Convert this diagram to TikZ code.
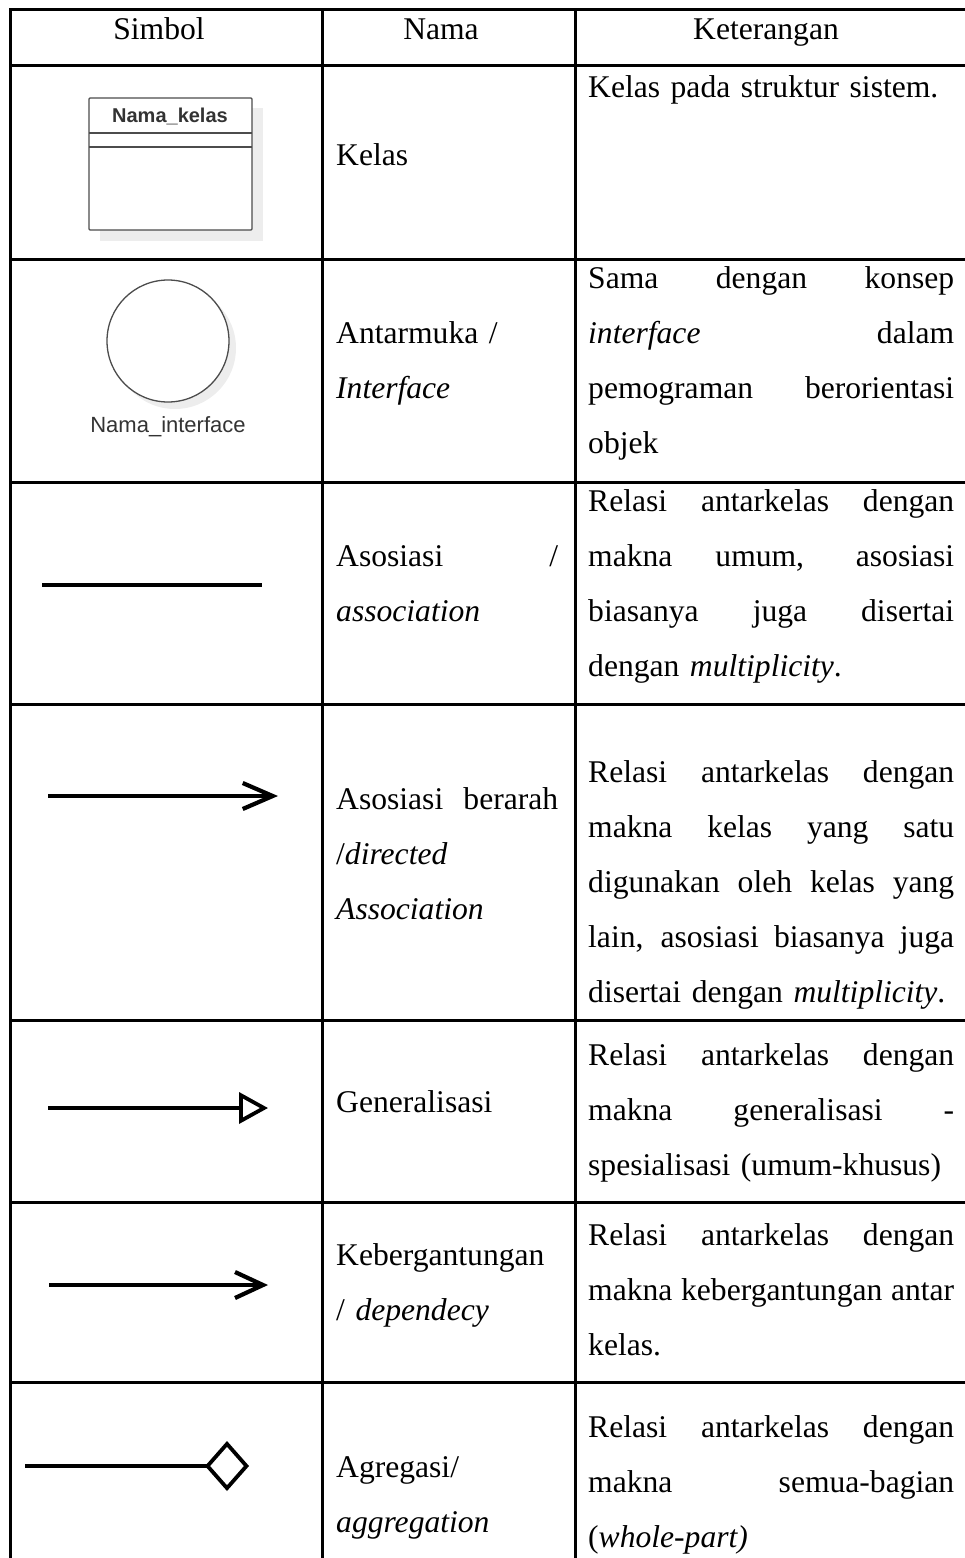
\documentclass[tikz,border=0pt]{standalone}
\usepackage{fontspec}
\setmainfont{Liberation Serif}
\newfontfamily\umlfont{Liberation Sans}
\usetikzlibrary{arrows.meta}

\newcommand{\fullline}[1]{\noindent\hbox to\linewidth{\spaceskip=0.25em plus 1fil minus 0.1em\relax #1}\par}

\tikzset{
  tabline/.style={line width=3pt, line cap=rect},
  hdr/.style={anchor=base, inner sep=0pt, font=\fontsize{31.6}{55}\selectfont},
  namecell/.style={anchor=base west, inner sep=0pt, text width=222pt, font=\fontsize{31.6}{55}\selectfont},
  desccell/.style={anchor=base west, inner sep=0pt, text width=366pt, font=\fontsize{31.6}{55}\selectfont},
  umlline/.style={line width=1.3pt, draw=black!70},
  umlshadow/.style={fill=black!7},
  relline/.style={line width=3.3pt},
}

\begin{document}
\begin{tikzpicture}[x=1pt,y=-1pt]
\useasboundingbox (0,0) rectangle (964,1558);
\draw[tabline] (10,9) -- (964,9);
\draw[tabline] (10,65) -- (964,65);
\draw[tabline] (10,259) -- (964,259);
\draw[tabline] (10,482) -- (964,482);
\draw[tabline] (10,704) -- (964,704);
\draw[tabline] (10,1020) -- (964,1020);
\draw[tabline] (10,1202) -- (964,1202);
\draw[tabline] (10,1382) -- (964,1382);
\draw[tabline] (10,9) -- (10,1558);
\draw[tabline] (322,9) -- (322,1558);
\draw[tabline] (575,9) -- (575,1558);

\node[hdr] (hsimbol) at (159,39) {Simbol};
\node[hdr] (hnama) at (441,39) {Nama};
\node[hdr] (hket) at (766,39) {Keterangan};

\fill[umlshadow] (100,108) rectangle (263,241);
\draw[umlline, fill=white, rounded corners=1pt] (89,98) rectangle (252,230);
\draw[umlline] (89,133) -- (252,133);
\draw[umlline] (89,147) -- (252,147);
\node[inner sep=0pt, text=black!80, font={\umlfont\bfseries\fontsize{20}{24}\selectfont}] (kelasname) at (170,116) {Nama\_kelas};

\fill[umlshadow] (175,348) circle[radius=61pt];
\draw[umlline, fill=white] (168,341) circle[radius=61pt];
\node[anchor=base, inner sep=0pt, text=black!80, font={\umlfont\fontsize{22}{26}\selectfont}] (ifacename) at (168,432) {Nama\_interface};

\coordinate (asA) at (42,585);
\coordinate (asB) at (262,585);
\draw[relline] (asA) -- (asB);

\coordinate (daA) at (48,796);
\coordinate (daB) at (278,796);
\draw[relline, -{Straight Barb[length=30pt, width=26pt, line width=4.2pt]}] (daA) -- (daB);

\coordinate (geA) at (48,1108);
\coordinate (geB) at (268,1108);
\draw[relline, -{Triangle[open, length=29pt, width=31pt, line width=3.8pt]}] (geA) -- (geB);

\coordinate (deA) at (49,1285);
\coordinate (deB) at (268,1285);
\draw[relline, -{Straight Barb[length=28pt, width=26pt, line width=4.2pt]}] (deA) -- (deB);

\coordinate (agA) at (25,1466);
\coordinate (agB) at (249,1466);
\draw[relline, -{Diamond[open, length=44pt, width=50pt, line width=3.8pt]}] (agA) -- (agB);

\node[namecell] (nkelas) at (336,165) {Kelas};
\node[desccell] (dkelas) at (588,97) {Kelas pada struktur sistem.};

\node[namecell] (niface) at (336,343) {Antarmuka /\par\textit{Interface}};
\node[desccell] (diface) at (588,288) {\fullline{Sama dengan konsep}\fullline{\textit{interface} dalam}\fullline{pemograman berorientasi}objek};

\node[namecell] (nassoc) at (336,566) {\fullline{Asosiasi /}\textit{association}};
\node[desccell] (dassoc) at (588,511) {\fullline{Relasi antarkelas dengan}\fullline{makna umum, asosiasi}\fullline{biasanya juga disertai}dengan \textit{multiplicity}.};

\node[namecell] (ndirect) at (336,809) {\fullline{Asosiasi berarah}/\textit{directed}\par\textit{Association}};
\node[desccell] (ddirect) at (588,782) {\fullline{Relasi antarkelas dengan}\fullline{makna kelas yang satu}\fullline{digunakan oleh kelas yang}\fullline{lain, asosiasi biasanya juga}disertai dengan \textit{multiplicity}.};

\node[namecell] (ngeneral) at (336,1112) {Generalisasi};
\node[desccell] (dgeneral) at (588,1065) {\fullline{Relasi antarkelas dengan}\fullline{makna generalisasi -}spesialisasi (umum-khusus)};

\node[namecell] (ndepend) at (336,1265) {Kebergantungan\par/ \textit{dependecy}};
\node[desccell] (ddepend) at (588,1245) {\fullline{Relasi antarkelas dengan}\fullline{makna kebergantungan antar}kelas.};

\node[namecell] (naggreg) at (336,1477) {Agregasi/\par\textit{aggregation}};
\node[desccell] (daggreg) at (588,1437) {\fullline{Relasi antarkelas dengan}\fullline{makna semua-bagian}(\textit{whole-part)}};
\end{tikzpicture}
\end{document}
